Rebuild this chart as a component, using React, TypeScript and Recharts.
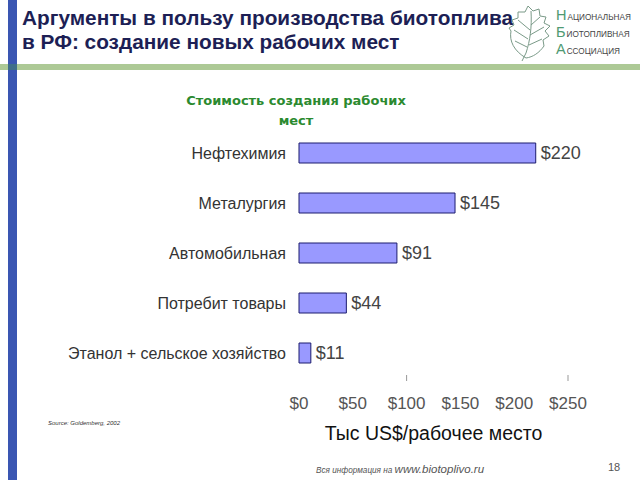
import { BarChart, Bar, XAxis, YAxis, LabelList } from "recharts"

const sectors = [
  "Нефтехимия",
  "Металургия",
  "Автомобильная",
  "Потребит товары",
  "Этанол + сельское хозяйство",
]
const costs = [220, 145, 91, 44, 11]
const xTicks = [0, 50, 100, 150, 200, 250]
// the original slide shows stray tick marks only at these two values
const markedTicks = [100, 250]

const data = sectors.map((name, i) => ({ name, cost: costs[i] }))

const FONT = "'Liberation Sans', Arial, sans-serif"
const TICK_GAP = 19

function XTick(props: any) {
  const { x, y, payload } = props
  return (
    <g>
      {markedTicks.includes(payload.value) && (
        <line x1={x} x2={x} y1={y - TICK_GAP - 3} y2={y - TICK_GAP + 3} stroke="#999" />
      )}
      <text x={x} y={y} dy={12} textAnchor="middle" fill="#555" fontSize={17} fontFamily={FONT}>
        ${payload.value}
      </text>
    </g>
  )
}

function Leaf() {
  return (
    <svg width={48} height={58} style={{ position: "absolute", left: 506, top: 3 }}>
      <g fill="none" stroke="#7a9a88" strokeWidth={1}>
        <path d="M20 55 C 8 48, 3 38, 5 28 L 3 25 L 8 22 L 6 17 L 12 15 L 12 9 L 19 9 L 22 3 L 27 8 L 33 6 L 34 13 L 40 14 L 38 20 L 44 23 L 39 28 L 43 33 L 37 37 L 38 43 C 33 50, 27 54, 20 55 Z" />
        <path d="M16 58 L 20 50 C 24 38, 26 24, 25 8" />
        <path d="M21 44 L 9 38" />
        <path d="M22 36 L 8 27" />
        <path d="M24 27 L 12 17" />
        <path d="M23 42 L 36 36" />
        <path d="M24 32 L 38 24" />
        <path d="M25 22 L 34 14" />
      </g>
    </svg>
  )
}

function LogoText() {
  const rows = [
    ["Н", "АЦИОНАЛЬНАЯ"],
    ["Б", "ИОТОПЛИВНАЯ"],
    ["А", "ССОЦИАЦИЯ"],
  ]
  return (
    <div style={{ position: "absolute", left: 556, top: 6, fontFamily: FONT }}>
      {rows.map(([big, small]) => (
        <div key={big} style={{ height: 17, lineHeight: "17px", whiteSpace: "nowrap" }}>
          <span style={{ fontSize: 14.5, color: "#4f9a72", fontWeight: 300 }}>{big}</span>
          <span style={{ fontSize: 8.2, color: "#444", marginLeft: 1 }}>{small}</span>
        </div>
      ))}
    </div>
  )
}

export default function App() {
  return (
    <div
      style={{
        position: "absolute",
        left: 0,
        top: 0,
        width: 640,
        height: 480,
        background: "#fff",
        overflow: "hidden",
        fontFamily: FONT,
      }}
    >
      <div style={{ position: "absolute", left: 8, top: 0, width: 9, height: 480, background: "#3a56b2" }} />
      <div style={{ position: "absolute", left: 0, top: 64, width: 640, height: 6, background: "#adc996" }} />
      <div style={{ position: "absolute", left: 8, top: 64, width: 9, height: 6, background: "#3f6e8a" }} />

      <div
        style={{
          position: "absolute",
          left: 22,
          top: 6,
          fontSize: 20.8,
          lineHeight: "24px",
          fontWeight: "bold",
          color: "#1d1f55",
          whiteSpace: "nowrap",
        }}
      >
        Аргументы в пользу производства биотоплива
        <br />в РФ: создание новых рабочих мест
      </div>

      <Leaf />
      <LogoText />

      <div
        style={{
          position: "absolute",
          left: 146,
          top: 91,
          width: 300,
          textAlign: "center",
          fontFamily: "'DejaVu Sans', Verdana, sans-serif",
          fontWeight: "bold",
          fontSize: 13,
          lineHeight: "20px",
          color: "#2b8a2f",
        }}
      >
        Стоимость создания рабочих
        <br />
        мест
      </div>

      <div style={{ position: "absolute", left: 0, top: 0 }}>
        <BarChart
          width={640}
          height={480}
          layout="vertical"
          data={data}
          margin={{ top: 128, right: 72, bottom: 62, left: 0 }}
        >
          <XAxis
            type="number"
            domain={[0, 250]}
            ticks={xTicks}
            axisLine={false}
            tickLine={false}
            tickSize={6}
            tickMargin={13}
            height={40}
            tick={<XTick />}
            label={{
              value: "Тыс US$/рабочее место",
              position: "bottom",
              offset: 8,
              fill: "#111",
              fontSize: 19.5,
              fontFamily: FONT,
            }}
          />
          <YAxis
            type="category"
            dataKey="name"
            width={299}
            axisLine={false}
            tickLine={false}
            tickMargin={7}
            tick={{ fill: "#333", fontSize: 16, fontFamily: FONT }}
          />
          <Bar
            dataKey="cost"
            fill="#9999ff"
            stroke="#1c1c6e"
            strokeWidth={1}
            barSize={20}
            isAnimationActive={false}
          >
            <LabelList
              dataKey="cost"
              position="right"
              offset={5}
              formatter={(v: any) => `$${v}`}
              fill="#444"
              fontSize={18}
              fontFamily={FONT}
            />
          </Bar>
        </BarChart>
      </div>

      <div
        style={{
          position: "absolute",
          left: 48,
          top: 420,
          fontSize: 6,
          fontStyle: "italic",
          color: "#333",
          whiteSpace: "nowrap",
        }}
      >
        Source: Goldemberg, 2002
      </div>

      <div
        style={{
          position: "absolute",
          left: 316,
          top: 459,
          whiteSpace: "nowrap",
          fontStyle: "italic",
          color: "#555",
        }}
      >
        <span style={{ fontSize: 8.2 }}>Вся информация на </span>
        <span style={{ fontSize: 11.5 }}>www.biotoplivo.ru</span>
      </div>
      <div style={{ position: "absolute", left: 608, top: 461, fontSize: 11, color: "#555" }}>18</div>
    </div>
  )
}
